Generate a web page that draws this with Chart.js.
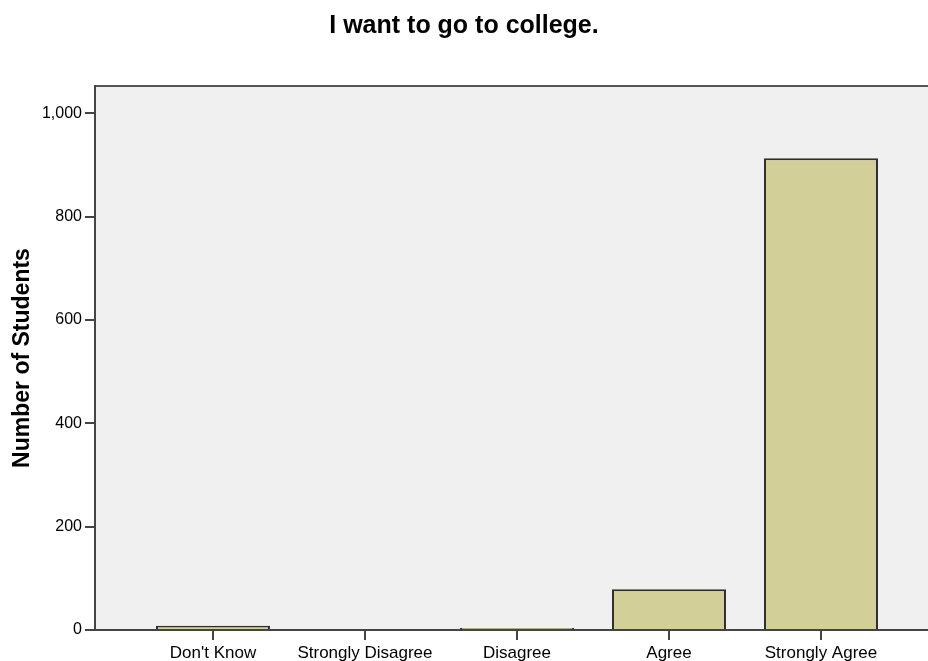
<!DOCTYPE html>
<html>
<head>
<meta charset="utf-8">
<script src="https://cdn.jsdelivr.net/npm/chart.js@4"></script>
<style>
  body { margin: 0; background: #fff; }
</style>
</head>
<body>
<canvas id="myChart" width="928" height="661"></canvas>
<script>
(() => {
  "use strict";

  // Chart data
  const categories = ["Don't Know", "Strongly Disagree", "Disagree", "Agree", "Strongly Agree"];
  const studentCounts = [8, 2, 4, 79, 913];
  const yTicks = [0, 200, 400, 600, 800, 1000];

  // Gray plot background and top frame line
  const plotBackground = {
    id: "plotBackground",
    beforeDraw(chart) {
      const { ctx, chartArea } = chart;
      ctx.save();
      ctx.fillStyle = "#f0f0f0";
      ctx.fillRect(chartArea.left, chartArea.top, chartArea.right - chartArea.left, chartArea.bottom - chartArea.top);
      ctx.strokeStyle = "#555";
      ctx.lineWidth = 2;
      ctx.beginPath();
      ctx.moveTo(chartArea.left, chartArea.top);
      ctx.lineTo(chartArea.right, chartArea.top);
      ctx.stroke();
      ctx.restore();
    },
  };

  const ctx = document.getElementById("myChart");
  new Chart(ctx, {
    type: "bar",
    data: {
      datasets: [
        {
          data: studentCounts.map((v, i) => ({ x: i, y: v })),
          backgroundColor: "#d3cf98",
          borderColor: "#2e2e2e",
          borderWidth: 2,
          categoryPercentage: 1,
          barPercentage: 0.75,
        },
      ],
    },
    options: {
      responsive: false,
      animation: false,
      plugins: {
        legend: { display: false },
        tooltip: { enabled: false },
        title: {
          display: true,
          text: "I want to go to college.",
          color: "#000",
          font: { family: "Liberation Sans, Arial, sans-serif", size: 25, weight: "bold" },
          padding: { top: 11, bottom: 45 },
        },
      },
      scales: {
        x: {
          type: "linear",
          offset: false,
          min: -0.776,
          max: 4.704,
          afterBuildTicks(scale) {
            scale.ticks = categories.map((c, i) => ({ value: i }));
          },
          afterFit(scale) {
            scale.height = 31;
          },
          border: { display: true, color: "#444", width: 2 },
          grid: { offset: false, drawOnChartArea: false, drawTicks: true, tickLength: 10, color: "#444", lineWidth: 2 },
          ticks: {
            color: "#000",
            padding: 3,
            maxRotation: 0,
            autoSkip: false,
            font: { family: "Liberation Sans, Arial, sans-serif", size: 17 },
            callback: (value) => categories[value] ?? "",
          },
        },
        y: {
          min: 0,
          max: 1053,
          afterBuildTicks(scale) {
            scale.ticks = yTicks.map((v) => ({ value: v }));
          },
          afterFit(scale) {
            scale.width = 95;
          },
          border: { display: true, color: "#444", width: 2 },
          grid: { drawOnChartArea: false, drawTicks: true, tickLength: 10, color: "#444", lineWidth: 2 },
          ticks: {
            color: "#000",
            padding: 3,
            font: { family: "Liberation Sans, Arial, sans-serif", size: 16 },
            callback: (value) => value.toLocaleString("en-US"),
          },
          title: {
            display: true,
            text: "Number of Students",
            color: "#000",
            font: { family: "Liberation Sans, Arial, sans-serif", size: 23, weight: "bold" },
            padding: { top: 9, bottom: 0 },
          },
        },
      },
    },
    plugins: [plotBackground],
  });
})();
</script>
</body>
</html>
